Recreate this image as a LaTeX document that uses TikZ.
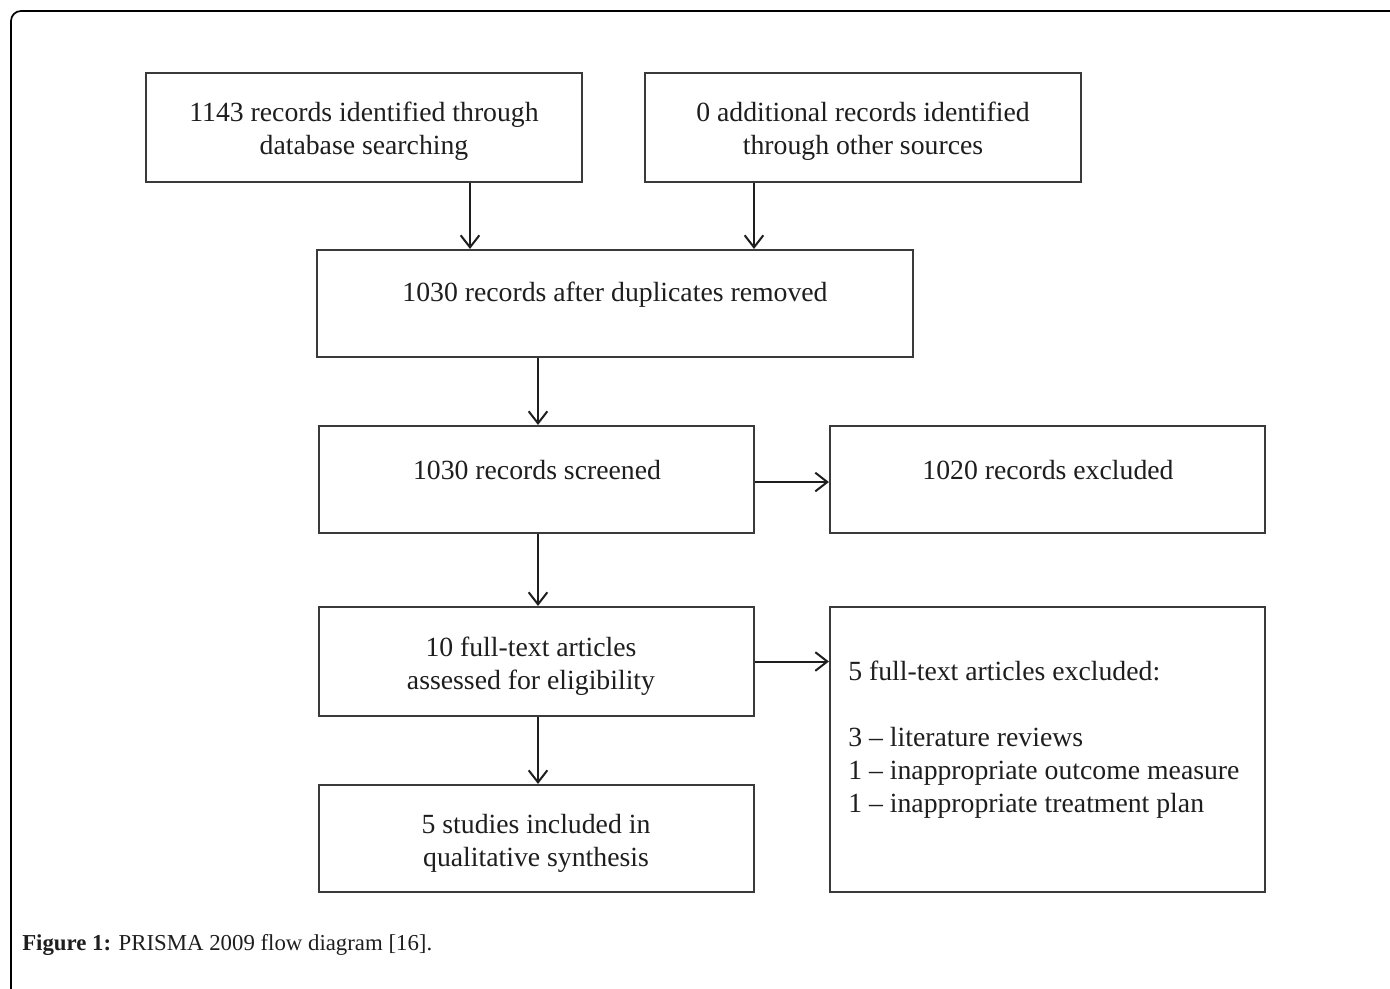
\documentclass[tikz,border=0pt]{standalone}
\usepackage{fontspec}
\setmainfont{Liberation Serif}
\usetikzlibrary{arrows.meta}
\definecolor{boxline}{HTML}{3A3A3A}
\definecolor{ink}{HTML}{1E1E1E}
\tikzset{
  box/.style={draw=boxline, line width=1.6pt, rectangle, inner sep=0pt},
  txt/.style={text=ink, font={\fontsize{20.8}{24.75}\selectfont}, inner sep=0pt, align=center},
  arr/.style={draw=ink, line width=1.5pt, -{Straight Barb[length=9pt,width=14pt,line width=1.5pt]}},
  frame/.style={draw=black, line width=1.3pt, rounded corners=7.5pt},
}
\newcommand\pbox[5]{\node[box, minimum width=#4*0.75pt, minimum height=#5*0.75pt] (#1) at (#2,#3) {};}
\begin{document}
\begin{tikzpicture}[x=0.75pt,y=-0.75pt]
\useasboundingbox (0,0) rectangle (1390,989);
\fill[white] (0,0) rectangle (1390,989);
% outer frame
\draw[frame] (11,1000) -- (11,11) -- (1400,11);
% boxes
\pbox{A}{364}{127.5}{436}{109}
\pbox{B}{863}{127.5}{436}{109}
\pbox{C}{615}{303.5}{596}{107}
\pbox{D}{536.5}{479.5}{435}{107}
\pbox{E}{1047.5}{479.5}{435}{107}
\pbox{F}{536.5}{661.5}{435}{109}
\pbox{G}{1047.5}{749.5}{435}{285}
\pbox{H}{536.5}{838.5}{435}{107}
% texts
\node[txt] (tA) at (364,131) {1143 records identified through\\database searching};
\node[txt] (tB) at (863,131) {0 additional records identified\\through other sources};
\node[txt] (tC) at (615,295) {1030 records after duplicates removed};
\node[txt] (tD) at (537,470) {1030 records screened};
\node[txt] (tE) at (1048,470) {1020 records excluded};
\node[txt] (tF) at (531,666.5) {10 full-text articles\\assessed for eligibility};
\node[txt, align=left, anchor=west] (tG) at (848,739.5) {5 full-text articles excluded:\\[24.75pt]3 – literature reviews\\1 – inappropriate outcome measure\\1 – inappropriate treatment plan};
\node[txt] (tH) at (536,843) {5 studies included in\\qualitative synthesis};
% connectors
\coordinate (ax) at (470,0);
\coordinate (bx) at (754,0);
\coordinate (mx) at (538,0);
\draw[arr] (A.south -| ax) -- (C.north -| ax);
\draw[arr] (B.south -| bx) -- (C.north -| bx);
\draw[arr] (C.south -| mx) -- (D.north -| mx);
\draw[arr] (D.south -| mx) -- (F.north -| mx);
\draw[arr] (F.south -| mx) -- (H.north -| mx);
\draw[arr] ([yshift=-1.9pt]D.east) -- ([yshift=-1.9pt]E.west);
\draw[arr] (F.east) -- (F.east -| G.west);
% caption
\node[anchor=west, inner sep=0pt, text=ink, font={\fontsize{17.1}{21}\selectfont}] (cap) at (22,944.5) {\textbf{Figure 1:} PRISMA 2009 flow diagram [16].};
\end{tikzpicture}
\end{document}
